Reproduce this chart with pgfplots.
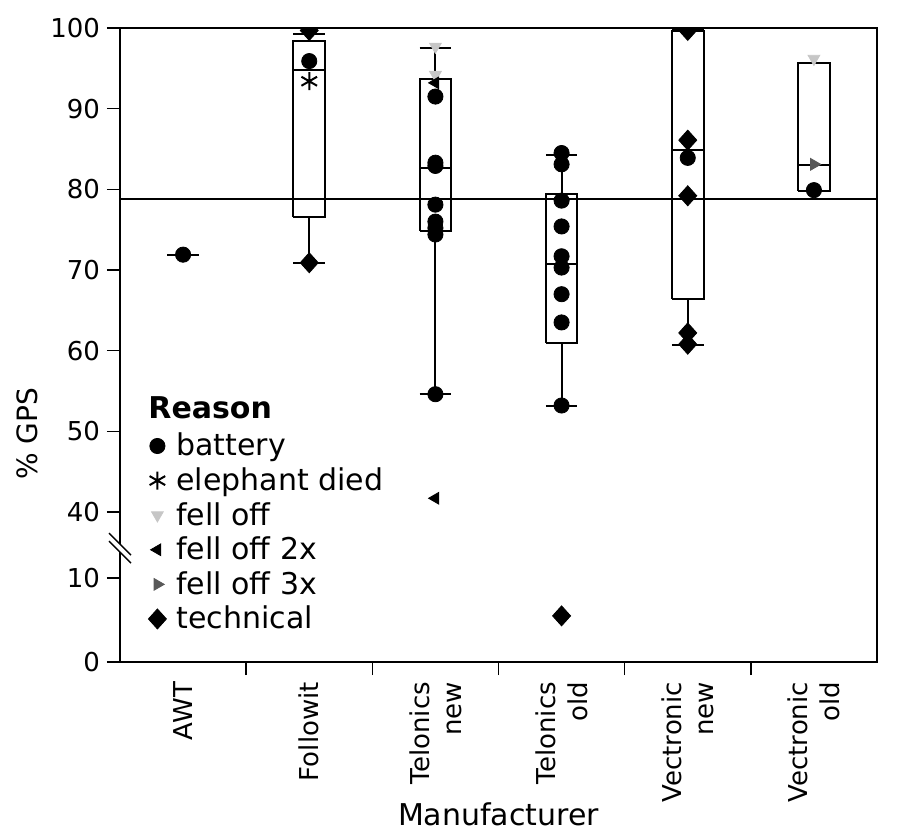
\documentclass[border=0pt]{standalone}
\usepackage{pgfplots}
\pgfplotsset{compat=1.18}
\usepackage{fontspec}
\setmainfont{DejaVu Sans}

\pgfplotstableread{
x y
0 71.9
1 95.9
2 91.5
2 83.3
2 82.9
2 78.1
2 76.0
2 75.2
2 74.4
2 54.6
3 84.5
3 83.1
3 78.6
3 75.4
3 71.7
3 70.3
3 67.0
3 63.5
3 53.2
4 83.9
5 79.9
}\battery
\pgfplotstableread{
x y
1 93.4
}\elephant
\pgfplotstableread{
x y
2 97.7
2 94.2
5 96.2
}\felloff
\pgfplotstableread{
x y
2 93.2
2 41.7
}\felloffii
\pgfplotstableread{
x y
5 83.1
}\felloffiii
\pgfplotstableread{
x y
1 99.7
1 70.9
3 5.5
4 100.0
4 99.7
4 86.1
4 79.2
4 62.2
4 60.8
}\technical

\begin{document}
\begin{tikzpicture}
\useasboundingbox (-60pt,-87.5pt) rectangle (392pt,331pt);
\begin{axis}[
  scale only axis, width=378.5pt, height=317pt,
  xmin=-0.5, xmax=5.5, ymin=0, ymax=100,
  y coord trafo/.code={\pgfmathparse{#1>25 ? #1-21.4 : 1.04*#1}},
  ytick={0,10,40,50,60,70,80,90,100},
  yticklabels={0,10,40,50,60,70,80,90,100},
  xtick={0,1,2,3,4,5},
  xticklabels={AWT, Followit, Telonics\\new, Telonics\\old, Vectronic\\new, Vectronic\\old},
  minor xtick={0.5,1.5,2.5,3.5,4.5},
  major x tick style={draw=none},
  tick pos=left, tick align=outside,
  major tick length=6.5pt, minor tick length=6.5pt,
  tick style={black, line width=0.75pt},
  axis line style={line width=0.75pt},
  xticklabel style={rotate=90, anchor=east, align=right, font=\fontsize{13}{16}\selectfont},
  yticklabel style={font=\fontsize{13}{16}\selectfont},
  xlabel={Manufacturer}, ylabel={\% GPS},
  xlabel style={at={(axis description cs:0.5,-0.241)}, anchor=center, font=\fontsize{15}{18}\selectfont},
  ylabel style={at={(axis description cs:-0.122,0.36)}, anchor=center, font=\fontsize{14}{17}\selectfont},
  clip marker paths=true,
  unbounded coords=jump,
  legend style={at={(axis description cs:0.037,0.368)}, anchor=north west, draw=none, fill=none,
    font=\fontsize{15}{18}\selectfont, inner sep=0pt, row sep=0.4pt, cells={anchor=west}},
  legend cell align=left,
]
% boxes, medians, whiskers and caps
\addplot[black, line width=1pt, forget plot] coordinates {
 (-0.125,71.9) (0.125,71.9) (nan,nan)
 (0.875,76.6) (1.125,76.6) (1.125,98.4) (0.875,98.4) (0.875,76.6) (nan,nan)
 (0.875,94.8) (1.125,94.8) (nan,nan)
 (1,98.4) (1,99.3) (nan,nan) (0.875,99.3) (1.125,99.3) (nan,nan)
 (1,76.6) (1,70.9) (nan,nan) (0.875,70.9) (1.125,70.9) (nan,nan)
 (1.875,74.8) (2.125,74.8) (2.125,93.7) (1.875,93.7) (1.875,74.8) (nan,nan)
 (1.875,82.7) (2.125,82.7) (nan,nan)
 (2,93.7) (2,97.5) (nan,nan) (1.875,97.5) (2.125,97.5) (nan,nan)
 (2,74.8) (2,54.6) (nan,nan) (1.875,54.6) (2.125,54.6) (nan,nan)
 (2.875,60.9) (3.125,60.9) (3.125,79.4) (2.875,79.4) (2.875,60.9) (nan,nan)
 (2.875,70.7) (3.125,70.7) (nan,nan)
 (3,79.4) (3,84.3) (nan,nan) (2.875,84.3) (3.125,84.3) (nan,nan)
 (3,60.9) (3,53.2) (nan,nan) (2.875,53.2) (3.125,53.2) (nan,nan)
 (3.875,66.4) (4.125,66.4) (4.125,99.6) (3.875,99.6) (3.875,66.4) (nan,nan)
 (3.875,84.9) (4.125,84.9) (nan,nan)
 (4,99.6) (4,99.9) (nan,nan) (3.875,99.9) (4.125,99.9) (nan,nan)
 (4,66.4) (4,60.7) (nan,nan) (3.875,60.7) (4.125,60.7) (nan,nan)
 (4.875,79.8) (5.125,79.8) (5.125,95.6) (4.875,95.6) (4.875,79.8) (nan,nan)
 (4.875,83.0) (5.125,83.0)
};
% reference line
\addplot[black, line width=0.8pt, forget plot] coordinates {(-0.5,78.8) (5.5,78.8)};
% points
\addplot[only marks, mark=*, mark size=3.8pt, black] table {\battery};
\addlegendentry{\hspace{3pt}battery}
\addplot[only marks, mark=asterisk, mark size=4.5pt, black, mark options={line width=1pt}] table {\elephant};
\addlegendentry{\hspace{3pt}elephant died}
\addplot[only marks, mark=triangle*, mark size=3.4pt, gray!45, mark options={rotate=180}] table {\felloff};
\addlegendentry{\hspace{3pt}fell off}
\addplot[only marks, mark=triangle*, mark size=3.4pt, black, mark options={rotate=90}] table {\felloffii};
\addlegendentry{\hspace{3pt}fell off 2x}
\addplot[only marks, mark=triangle*, mark size=3.4pt, black!65, mark options={rotate=-90}] table {\felloffiii};
\addlegendentry{\hspace{3pt}fell off 3x}
\addplot[only marks, mark=diamond*, mark size=5pt, black, mark options={xscale=1.2}] table {\technical};
\addlegendentry{\hspace{3pt}technical}
\node[anchor=south west, inner sep=0pt, font=\bfseries\fontsize{15}{18}\selectfont] at (axis description cs:0.037,0.382) {Reason};
\coordinate (br) at (axis description cs:0,0.186);
\end{axis}
\fill[white] ([shift={(-5pt,5pt)}]br) -- ([shift={(5pt,-5pt)}]br) -- ([shift={(5pt,-9pt)}]br) -- ([shift={(-5pt,1pt)}]br) -- cycle;
\draw[line width=0.7pt] ([shift={(-5.5pt,5.5pt)}]br) -- ([shift={(5.5pt,-5.5pt)}]br);
\draw[line width=0.7pt] ([shift={(-5.5pt,1.5pt)}]br) -- ([shift={(5.5pt,-9.5pt)}]br);
\end{tikzpicture}
\end{document}
